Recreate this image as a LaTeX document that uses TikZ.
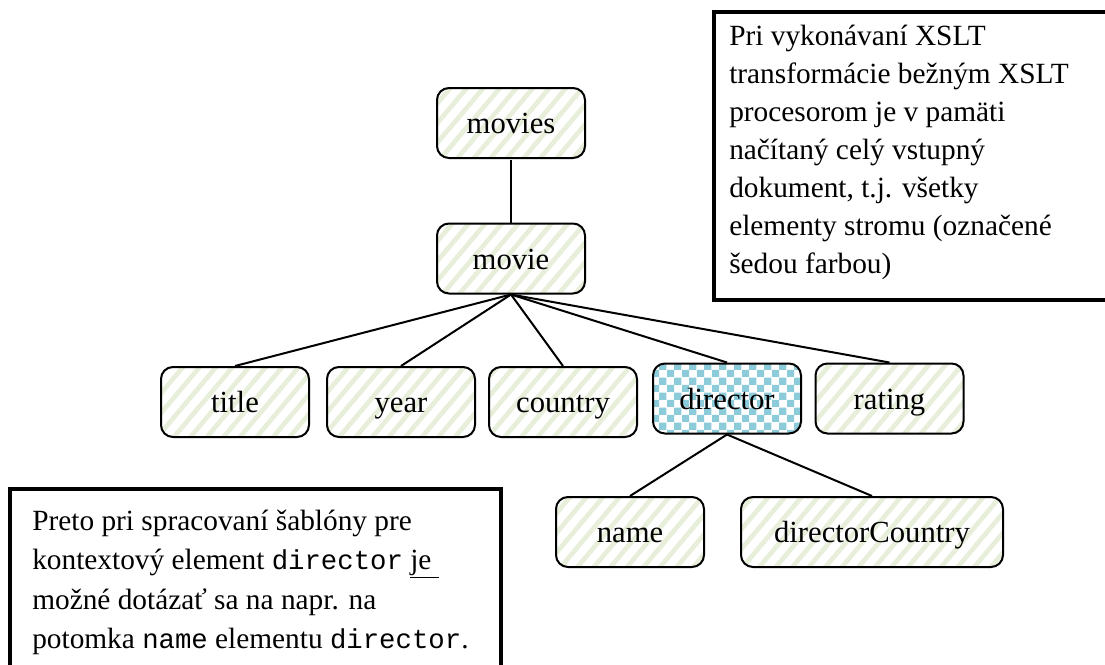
\documentclass[tikz,border=0pt]{standalone}
\usepackage{fontspec}
\setmainfont{Liberation Serif}
\setmonofont{Liberation Mono}
\usetikzlibrary{patterns,patterns.meta}

\definecolor{stripe}{RGB}{231,239,218}
\definecolor{checkblue}{RGB}{140,203,218}

% inline XML names in the notes
\newcommand\xmlname[1]{{\fontsize{20.5}{26}\selectfont\ttfamily #1}}

\tikzset{
  elem/.style={draw, line width=1.5pt, rounded corners=9pt,
    minimum width=111pt, minimum height=52.5pt, inner sep=0pt,
    text height=20pt, text depth=4pt,
    font=\fontsize{23}{27}\selectfont,
    pattern={Lines[angle=50,distance=9.5pt,line width=3.5pt]},
    pattern color=stripe},
  current/.style={pattern=checkerboard, pattern color=checkblue},
  link/.style={line width=1.5pt},
  notebox/.style={line width=3pt},
  noteline/.style={anchor=base west, inner sep=0pt,
    font=\fontsize{22}{26}\selectfont},
}

\begin{document}
\begin{tikzpicture}[x=0.75pt, y=-0.75pt]
  \useasboundingbox (0,0) rectangle (1105,664);
  \clip (0,0) rectangle (1105,664);
  \fill[white] (0,0) rectangle (1105,664);

  % document tree
  \node[elem] (movies) at (511,123) {movies};
  \node[elem] (movie) at (511,258.5) {movie};
  \node[elem] (title) at (235,402) {title};
  \node[elem] (year) at (401,402) {year};
  \node[elem] (country) at (563,402) {country};
  \node[elem, current] (director) at (727,398.5) {director};
  \node[elem] (rating) at (889.5,398.5) {rating};
  \node[elem] (name) at (630,532) {name};
  \node[elem, minimum width=196.5pt] (dcountry) at (872,532) {directorCountry};

  \draw[link] (movies.south) -- (movie.north);
  \foreach \c in {title,year,country,director,rating}
    \draw[link] (movie.south) -- (\c.north);
  \draw[link] (director.south) -- (name.north);
  \draw[link] (director.south) -- (dcountry.north);

  % note on the memory model
  \draw[notebox] (714,12) rectangle (1112,300);
  \node[noteline] (a1) at (729,45) {Pri vykonávaní XSLT};
  \node[noteline] (a2) at (729,83) {transformácie bežným XSLT};
  \node[noteline] (a3) at (729,121) {procesorom je v pamäti};
  \node[noteline] (a4) at (729,159) {načítaný celý vstupný};
  \node[noteline] (a5) at (729,197) {dokument, t.j. všetky};
  \node[noteline] (a6) at (729,235) {elementy stromu (označené};
  \node[noteline] (a7) at (729,273) {šedou farbou)};

  % note on the context element
  \draw[notebox] (10,489) rectangle (501,672);
  \node[noteline] (b1) at (32,530) {Preto pri spracovaní šablóny pre};
  \node[noteline] (b2) at (32,569) {kontextový element \xmlname{director} \underline{je\ }};
  \node[noteline] (b3) at (32,609) {možné dotázať sa na napr. na};
  \node[noteline] (b4) at (32,648) {potomka \xmlname{name} elementu \xmlname{director}.};
\end{tikzpicture}
\end{document}
